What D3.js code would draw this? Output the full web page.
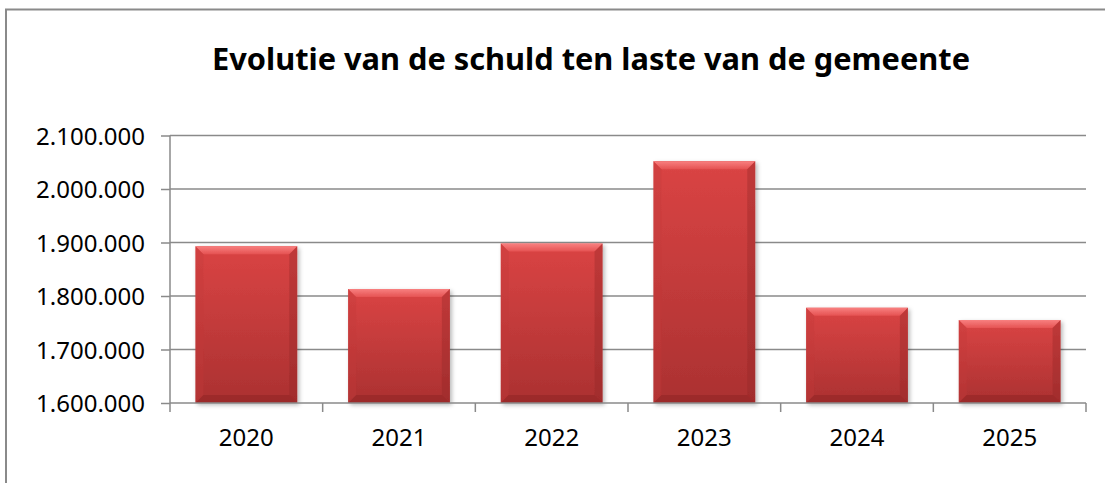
<!DOCTYPE html>
<html>
<head>
<meta charset="utf-8">
<script src="https://cdn.jsdelivr.net/npm/d3@7"></script>
<style>
  body { margin: 0; background: #fff; }
  svg { display: block; font-family: "Noto Sans", sans-serif; }
</style>
</head>
<body>
<div id="chart"></div>
<script>
// chart data
const years = ['2020', '2021', '2022', '2023', '2024', '2025'];
const schuld = [1893000, 1813000, 1898000, 2052000, 1778000, 1755000];
const yTicks = [1600000, 1700000, 1800000, 1900000, 2000000, 2100000];
const chartTitle = 'Evolutie van de schuld ten laste van de gemeente';

const width = 1105, height = 483;
const plot = { left: 170, right: 1086, top: 135.5, bottom: 403 };

const svg = d3.select('#chart').append('svg')
    .attr('width', width)
    .attr('height', height);

const defs = svg.append('defs');

// main bar fill
const grad = defs.append('linearGradient')
    .attr('id', 'barFill')
    .attr('x1', 0).attr('y1', 0).attr('x2', 0).attr('y2', 1);
grad.append('stop').attr('offset', '0%').attr('stop-color', '#da4444');
grad.append('stop').attr('offset', '100%').attr('stop-color', '#ab3131');

const topGrad = defs.append('linearGradient')
    .attr('id', 'topFill')
    .attr('x1', 0).attr('y1', 0).attr('x2', 0).attr('y2', 1);
topGrad.append('stop').attr('offset', '0%').attr('stop-color', '#f88080');
topGrad.append('stop').attr('offset', '100%').attr('stop-color', '#e55252');

const shadow = defs.append('filter')
    .attr('id', 'shadow')
    .attr('x', '-10%').attr('y', '-10%').attr('width', '130%').attr('height', '130%');
shadow.append('feDropShadow')
    .attr('dx', 2).attr('dy', 2).attr('stdDeviation', 2)
    .attr('flood-color', '#000').attr('flood-opacity', 0.28);

// outer frame (runs past the right and bottom edge)
svg.append('rect')
    .attr('x', 6).attr('y', 9.5)
    .attr('width', 1200).attr('height', 600)
    .attr('fill', 'none')
    .attr('stroke', '#8a8a8a')
    .attr('stroke-width', 2);

// title
svg.append('text')
    .attr('x', 591)
    .attr('y', 70)
    .attr('text-anchor', 'middle')
    .attr('font-size', 31)
    .attr('font-weight', 'bold')
    .attr('fill', '#000')
    .attr('textLength', 758)
    .attr('lengthAdjust', 'spacingAndGlyphs')
    .text(chartTitle);

const x = d3.scaleBand()
    .domain(years)
    .range([plot.left, plot.right])
    .paddingInner(1 / 3)
    .paddingOuter(1 / 6);

const y = d3.scaleLinear()
    .domain([1600000, 2100000])
    .range([plot.bottom, plot.top]);

const fmt = v => d3.format(',')(v).replace(/,/g, '.');

// gridlines
svg.append('g')
    .selectAll('line')
    .data(yTicks.slice(1))
    .join('line')
    .attr('x1', plot.left).attr('x2', plot.right)
    .attr('y1', d => y(d)).attr('y2', d => y(d))
    .attr('stroke', '#8a8a8a')
    .attr('stroke-width', 1.5);

// y axis
const yAxis = svg.append('g')
    .attr('transform', `translate(${plot.left},0)`)
    .call(d3.axisLeft(y).tickValues(yTicks).tickFormat(fmt).tickSize(9).tickPadding(16));
yAxis.select('.domain').attr('stroke', '#8a8a8a').attr('stroke-width', 1.5)
    .attr('d', `M0,${plot.top}V${plot.bottom}`);
yAxis.selectAll('.tick line').attr('stroke', '#8a8a8a').attr('stroke-width', 1.5);
yAxis.selectAll('.tick text')
    .attr('font-size', 24)
    .attr('font-family', '"Noto Sans", sans-serif')
    .attr('fill', '#000')
    .attr('dy', '0.36em');

// bars with bevel
const bev = 8;
const bars = svg.append('g').selectAll('g')
    .data(years.map((yr, i) => ({ yr, v: schuld[i] })))
    .join('g')
    .attr('filter', 'url(#shadow)');

bars.append('rect')
    .attr('x', d => x(d.yr))
    .attr('y', d => y(d.v))
    .attr('width', x.bandwidth())
    .attr('height', d => plot.bottom - y(d.v))
    .attr('fill', 'url(#barFill)');

// bevel edges: top, left, right, bottom
bars.each(function (d) {
    const g = d3.select(this);
    const x0 = x(d.yr), x1 = x0 + x.bandwidth();
    const y0 = y(d.v), y1 = plot.bottom;
    const edges = [
        { pts: [[x0, y0], [x1, y0], [x1 - bev, y0 + bev], [x0 + bev, y0 + bev]], c: 'url(#topFill)', o: 1 },
        { pts: [[x0, y0], [x0 + bev, y0 + bev], [x0 + bev, y1 - bev], [x0, y1]], c: '#c43a3a', o: 0.35 },
        { pts: [[x1, y0], [x1, y1], [x1 - bev, y1 - bev], [x1 - bev, y0 + bev]], c: '#8e2424', o: 0.35 },
        { pts: [[x0, y1], [x0 + bev, y1 - bev], [x1 - bev, y1 - bev], [x1, y1]], c: '#8a2222', o: 0.45 }
    ];
    g.selectAll('polygon')
        .data(edges)
        .join('polygon')
        .attr('points', e => e.pts.map(p => p.join(',')).join(' '))
        .attr('fill', e => e.c)
        .attr('fill-opacity', e => e.o);
});

// x axis
const xAxis = svg.append('g')
    .attr('transform', `translate(0,${plot.bottom})`);
xAxis.append('line')
    .attr('x1', plot.left).attr('x2', plot.right)
    .attr('y1', 0).attr('y2', 0)
    .attr('stroke', '#8a8a8a').attr('stroke-width', 1.5);
const step = x.step();
xAxis.selectAll('.xtick')
    .data(d3.range(years.length + 1))
    .join('line')
    .attr('class', 'xtick')
    .attr('x1', i => plot.left + i * step).attr('x2', i => plot.left + i * step)
    .attr('y1', 0).attr('y2', 9)
    .attr('stroke', '#8a8a8a').attr('stroke-width', 1.5);
xAxis.selectAll('.xlabel')
    .data(years)
    .join('text')
    .attr('class', 'xlabel')
    .attr('x', d => x(d) + x.bandwidth() / 2)
    .attr('y', 43)
    .attr('text-anchor', 'middle')
    .attr('font-size', 24)
    .attr('fill', '#000')
    .text(d => d);
</script>
</body>
</html>
